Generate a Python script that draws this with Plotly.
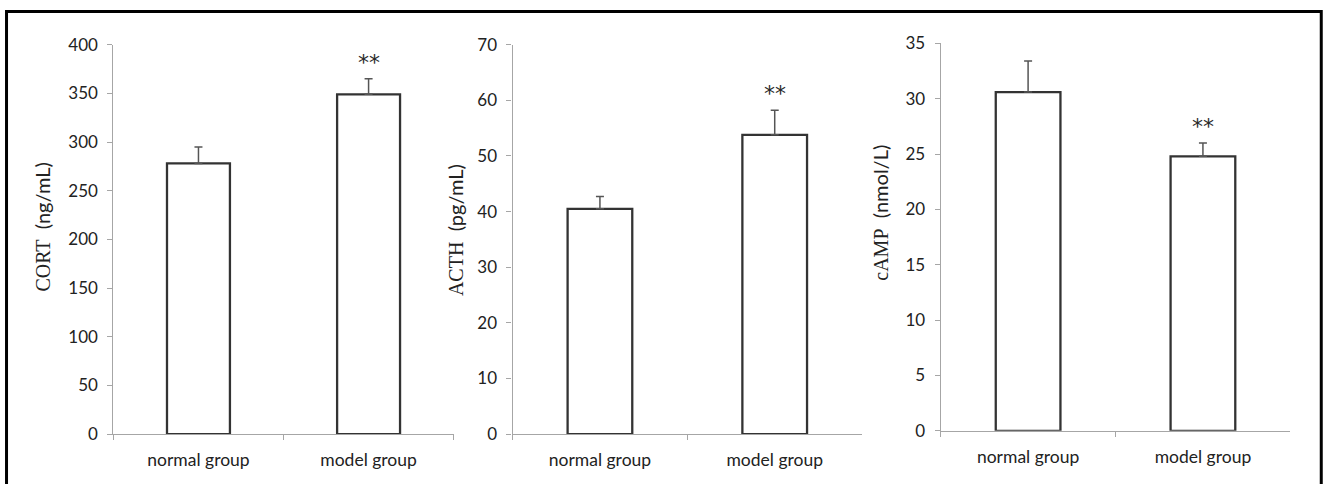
import plotly.graph_objects as go

W, H = 1325, 484

categories = ["normal group", "model group"]

cort_values = [278, 349]
cort_errors = [17, 16]
acth_values = [40.5, 53.8]
acth_errors = [2.2, 4.4]
camp_values = [30.6, 24.8]
camp_errors = [2.8, 1.2]

y_titles = ["CORT", "ACTH", "cAMP"]
y_units = ["(ng/mL)", "(pg/mL)", "(nmol/L)"]
y_ranges = [400, 70, 35]
y_dticks = [50, 10, 5]
stars = ["", "**"]

panels = [
    (cort_values, cort_errors),
    (acth_values, acth_errors),
    (camp_values, camp_errors),
]


# map target picture pixels to paper fractions (viewer scales the page slightly)
def fx(xp):
    return (xp - 1.0) / 0.9964 / W


def fy(yp):
    return 1 - (yp - 9.1) / 0.963 / H


# pixel layout (left, right) and (zero, top) in picture pixels
px_x = [(114, 453), (511.7, 860), (938.3, 1286.7)]
px_y = [(435, 43), (435, 43), (431.7, 41.7)]
title_pos = [(43, 227), (455, 230), (877, 212)]

fig = go.Figure()
for i, (vals, errs) in enumerate(panels):
    xa = "x" if i == 0 else f"x{i+1}"
    ya = "y" if i == 0 else f"y{i+1}"
    fig.add_trace(go.Bar(
        x=categories, y=vals, xaxis=xa, yaxis=ya, width=0.37,
        marker=dict(color="white", line=dict(color="#333333", width=2.3)),
        error_y=dict(type="data", symmetric=False, array=errs,
                     arrayminus=[0] * len(errs),
                     color="#555555", thickness=1.5, width=4),
        showlegend=False, hoverinfo="skip",
    ))
    for c, v, e, s in zip(categories, vals, errs, stars):
        if s:
            fig.add_annotation(x=c, y=v + e, xref=xa, yref=ya, text=s,
                               showarrow=False, yanchor="bottom", yshift=2,
                               font=dict(family="DejaVu Sans", size=22, color="#2a2a2a"))
    xl, xr = px_x[i]
    yb, yt = px_y[i]
    axkey = "xaxis" if i == 0 else f"xaxis{i+1}"
    aykey = "yaxis" if i == 0 else f"yaxis{i+1}"
    fig.update_layout(**{
        axkey: dict(domain=[fx(xl), fx(xr)], anchor=ya, type="category",
                    range=[-0.5, 1.5], showline=True, linecolor="#a6a6a6",
                    linewidth=1.2, ticks="outside", tickson="boundaries",
                    ticklen=5, tickcolor="#a6a6a6", showgrid=False,
                    zeroline=False, ticklabelstandoff=10,
                    tickfont=dict(family="Lato", size=17.5, color="#222222")),
        aykey: dict(domain=[fy(yb), fy(yt)], anchor=xa,
                    range=[0, y_ranges[i]], dtick=y_dticks[i], tick0=0,
                    showline=True, linecolor="#a6a6a6", linewidth=1.2,
                    ticks="outside", ticklen=5, tickcolor="#a6a6a6",
                    showgrid=False, zeroline=False, ticklabelstandoff=6,
                    tickfont=dict(family="Lato", size=17, color="#222222")),
    })
    tx, ty = title_pos[i]
    fig.add_annotation(
        x=fx(tx), y=fy(ty), xref="paper", yref="paper",
        text=(f'<span style="font-family:Liberation Serif">{y_titles[i]}</span>'
              f'  <span style="font-family:Lato">{y_units[i]}</span>'),
        textangle=-90, showarrow=False, xanchor="center", yanchor="middle",
        font=dict(family="Lato", size=20, color="#222222"))

# outer frame
fig.add_shape(type="rect", xref="paper", yref="paper",
              x0=fx(7.5), x1=fx(1317.5), y0=-0.1, y1=fy(9.5),
              line=dict(color="black", width=3), fillcolor="rgba(0,0,0,0)")

fig.update_layout(width=W, height=H, margin=dict(l=0, r=0, t=0, b=0),
                  paper_bgcolor="white", plot_bgcolor="white")

fig.write_html("out.html")
